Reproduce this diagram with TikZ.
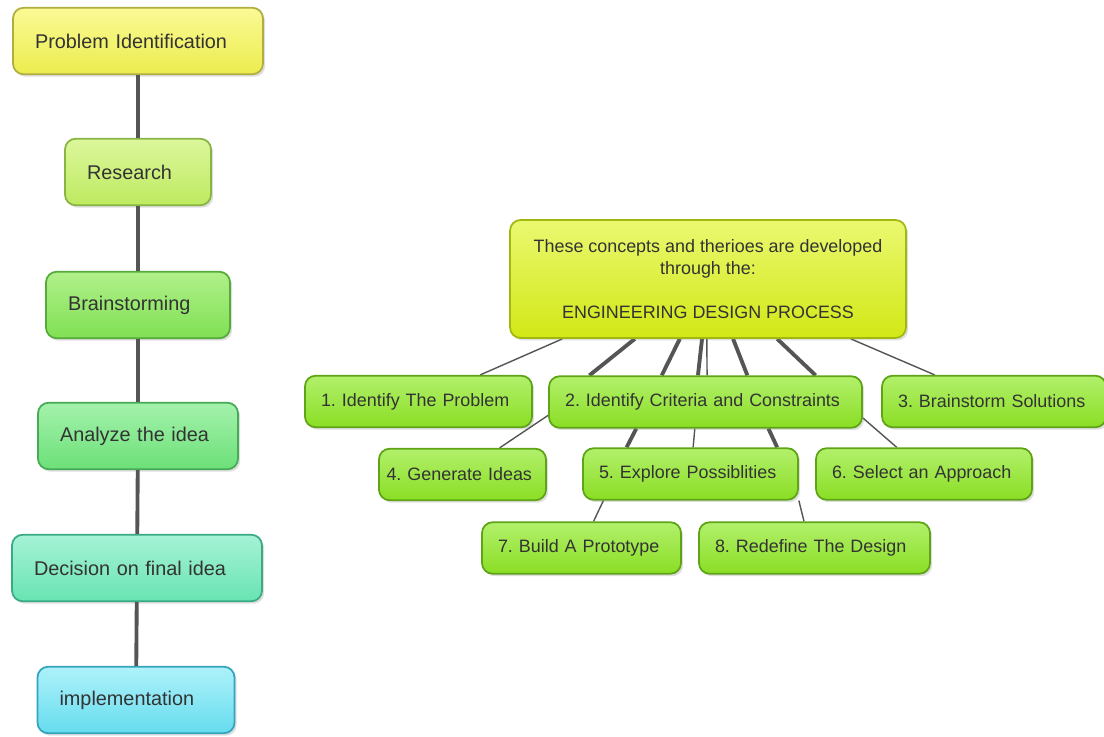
\documentclass[tikz,border=0pt]{standalone}
\usepackage{fontspec}
\setmainfont{Liberation Sans}
\usetikzlibrary{calc,shadows,backgrounds}
\frenchspacing
\definecolor{txt}{HTML}{333333}
\definecolor{wire}{HTML}{555555}
\definecolor{pitop}{HTML}{FAFA96}\definecolor{pibot}{HTML}{ECEC4E}\definecolor{pirim}{HTML}{B0AE40}
\definecolor{restop}{HTML}{DCF79C}\definecolor{resbot}{HTML}{BEEA60}\definecolor{resrim}{HTML}{88B444}
\definecolor{brtop}{HTML}{B0F08A}\definecolor{brbot}{HTML}{80E054}\definecolor{brrim}{HTML}{56AA3A}
\definecolor{antop}{HTML}{A4F2AC}\definecolor{anbot}{HTML}{6CE078}\definecolor{anrim}{HTML}{46AA56}
\definecolor{detop}{HTML}{A6F2D6}\definecolor{debot}{HTML}{68E4B2}\definecolor{derim}{HTML}{3AAA84}
\definecolor{imtop}{HTML}{AEF2FA}\definecolor{imbot}{HTML}{66DCEE}\definecolor{imrim}{HTML}{34A4BC}
\definecolor{edtop}{HTML}{EAF870}\definecolor{edbot}{HTML}{D2E816}\definecolor{edrim}{HTML}{A0B810}
\definecolor{childtop}{HTML}{B2F06C}\definecolor{childbot}{HTML}{8ADE24}\definecolor{childrim}{HTML}{5EA416}
\begin{document}
\begin{tikzpicture}[x=0.02cm, y=-0.02cm,
  box/.style={draw, rounded corners=6pt, line width=1pt, text=txt, inner ysep=2pt,
    drop shadow={shadow xshift=1.2pt, shadow yshift=-1.4pt, opacity=0.25}},
  lbox/.style={box, font=\fontsize{11.3}{13.5}\selectfont, minimum height=1.33cm,
    inner xsep=0.44cm, align=left, text width=#1},
  cbox/.style={box, font=\fontsize{10.2}{12.5}\selectfont, minimum height=1.03cm,
    inner xsep=0.32cm, align=left, text width=#1, tint=child},
  tint/.style={top color=#1top, bottom color=#1bot, draw=#1rim},
  chain/.style={wire, line width=2.2pt},
  thickwire/.style={wire, line width=2.2pt},
  thinwire/.style={wire, line width=0.8pt}]
  \useasboundingbox (0,0) rectangle (1104,736);
  % steps on the left
  \node[lbox=4.12cm, tint=pi] (pi) at (138,41) {Problem Identification};
  \node[lbox=2.04cm, tint=res] (res) at (138,172) {Research};
  \node[lbox=2.8cm, tint=br] (brain) at (138,305) {Brainstorming};
  \node[lbox=3.12cm, tint=an] (ana) at (138,436) {Analyze the idea};
  \node[lbox=4.12cm, tint=de] (dec) at (137,568) {Decision on final idea};
  \node[lbox=3.06cm, tint=im] (impl) at (136,700) {implementation};
  \foreach \a/\b in {pi/res, res/brain, brain/ana, ana/dec, dec/impl}
    \draw[chain] (\a) -- (\b);
  % design process
  \node[box, font=\fontsize{10.2}{12.5}\selectfont, align=center, minimum width=7.92cm, minimum height=2.36cm,
    tint=ed] (top) at (708,279)
    {These concepts and therioes are developed\\ through the:\\[12.5pt] ENGINEERING DESIGN PROCESS};
  \node[cbox=3.9cm] (c1) at (418.5,401.5) {1. Identify The Problem};
  \node[cbox=5.62cm] (c2) at (705.5,402) {2. Identify Criteria and Constraints};
  \node[cbox=3.84cm] (c3) at (994,401.5) {3. Brainstorm Solutions};
  \node[cbox=3.04cm, inner xsep=0.15cm] (c4) at (462.5,474.5) {4. Generate Ideas};
  \node[cbox=3.66cm] (c5) at (690.5,474) {5. Explore Possiblities};
  \node[cbox=3.68cm] (c6) at (924,474) {6. Select an Approach};
  \node[cbox=3.34cm] (c7) at (581.5,548) {7. Build A Prototype};
  \node[cbox=3.98cm] (c8) at (814.5,548) {8. Redefine The Design};
  \begin{scope}[on background layer]
  \foreach \f/\g/\n in {0.134/0.77/c1, 0.497/0.505/c2, 0.859/0.237/c3}
    \draw[thinwire] ($(top.south west)!\f!(top.south east)$) -- ($(\n.north west)!\g!(\n.north east)$);
  \foreach \f/\g in {0.316/0.131, 0.429/0.361, 0.485/0.476, 0.563/0.633, 0.674/0.85}
    \draw[thickwire] ($(top.south west)!\f!(top.south east)$) -- ($(c2.north west)!\g!(c2.north east)$);
  \foreach \f/\g/\w in {0.28/0.205/thickwire, 0.466/0.512/thinwire, 0.70/0.90/thickwire}
    \draw[\w] ($(c2.south west)!\f!(c2.south east)$) -- ($(c5.north west)!\g!(c5.north east)$);
  \draw[thinwire] ($(c2.south west)!0.5!(c2.west)$) -- ($(c4.north west)!0.72!(c4.north east)$);
  \draw[thinwire] ($(c2.south east)!0.4!(c2.east)$) -- ($(c6.north west)!0.375!(c6.north east)$);
  \draw[thinwire] ($(c5.south west)!0.098!(c5.south east)$) -- ($(c7.north west)!0.56!(c7.north east)$);
  \draw[thinwire] (c5.south east) -- ($(c8.north west)!0.455!(c8.north east)$);
  \end{scope}
\end{tikzpicture}
\end{document}
